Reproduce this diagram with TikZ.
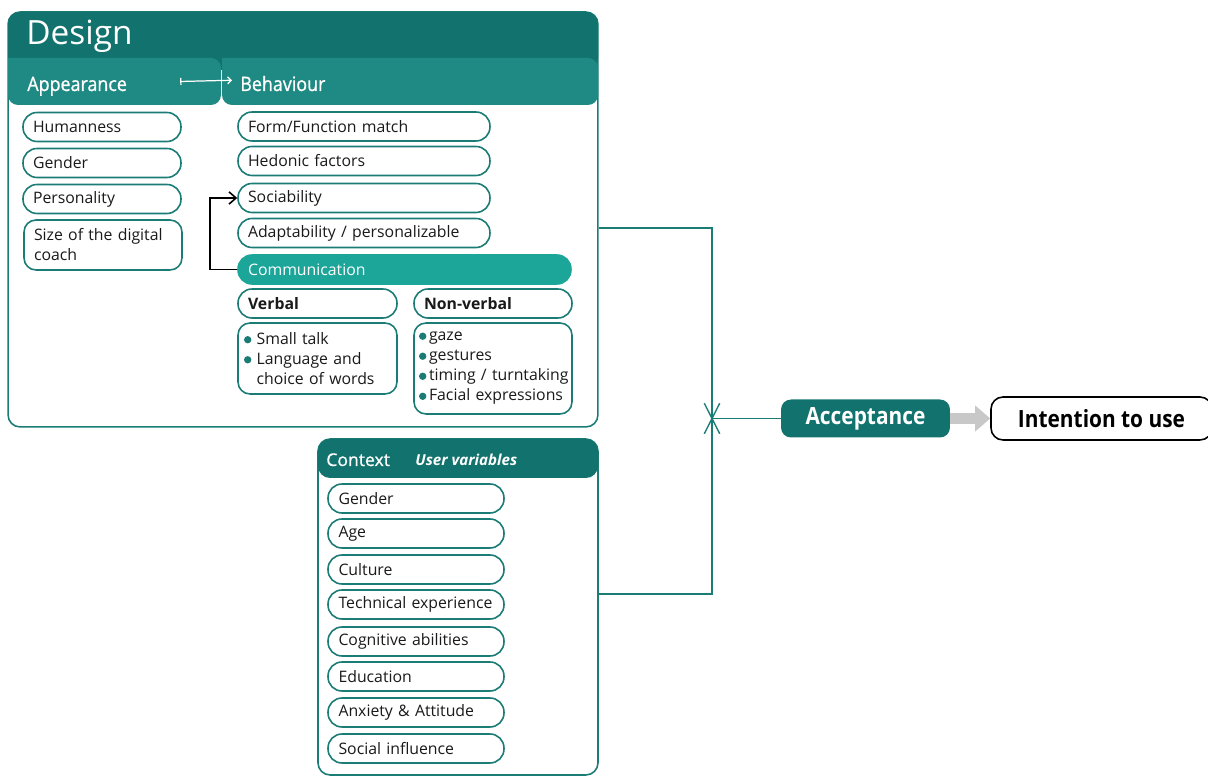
\documentclass[tikz,border=0pt]{standalone}
\usepackage{fontspec}
\setmainfont{Open Sans}
\newfontfamily\condfont[FakeStretch=0.88]{Open Sans}
\newfontfamily\tabfont[FakeStretch=0.9, FakeBold=0.9]{Open Sans}
\newfontfamily\semifont[FakeBold=0.9]{Open Sans}
\usepackage{xcolor}
\usetikzlibrary{arrows.meta,shapes.misc}

\definecolor{darkteal}{HTML}{12736E}
\definecolor{bandteal}{HTML}{1E8A83}
\definecolor{commteal}{HTML}{1BA699}
\definecolor{lineteal}{HTML}{1B7C76}
\definecolor{arrowgray}{HTML}{C8C8C8}
\definecolor{inktext}{HTML}{1A1A1A}
\newcommand{\dotitem}{\tikz[baseline=-0.55ex]\fill[lineteal] (0pt,0pt) circle (2.1pt);}
\newcommand{\nohyph}{\hyphenpenalty=10000\relax\exhyphenpenalty=10000\relax}

\begin{document}
\begin{tikzpicture}[x=0.02cm, y=-0.02cm]
            % Define styles
            \tikzstyle{panel} = [draw=lineteal, line width=0.9pt, fill=white, rounded corners=0.24cm, inner sep=0pt]
            \tikzstyle{itembox} = [draw=lineteal, line width=0.9pt, fill=white, rounded corners=0.28cm, minimum height=0.58cm, inner xsep=0.2cm, inner ysep=0pt, align=left, text=inktext, font=\fontsize{9}{11.4}\selectfont\nohyph]
            \tikzstyle{appitem} = [itembox, text width=2.76cm]
            \tikzstyle{behitem} = [itembox, text width=4.64cm]
            \tikzstyle{ctxitem} = [itembox, text width=3.1cm, inner xsep=0.21cm]
            \tikzstyle{listbox} = [itembox, rounded corners=0.24cm, inner xsep=0.12cm, text width=2.94cm]
            \tikzstyle{headtext} = [text=white, inner sep=0pt, anchor=base west]
            \tikzstyle{link} = [draw=lineteal, line width=0.8pt]
            \useasboundingbox (0,0) rectangle (1208,776);

            % Design panel
            \node (designbox) [panel, minimum width=11.8cm, minimum height=8.3cm] at (303,219.5) {};
            \fill[darkteal, rounded corners=0.24cm] (8,12) rectangle (598,70);
            \fill[bandteal] (8,58) [rounded corners=0.2cm] -- (8,105) -- (221,105) -- (221,58) [sharp corners] -- cycle;
            \fill[bandteal] (222,58) [rounded corners=0.2cm] -- (222,105) -- (598,105) -- (598,58) [sharp corners] -- cycle;
            \node (design) [headtext, font=\fontsize{19}{19}\selectfont] at (26,45) {Design};
            \node (appear) [headtext, font=\tabfont\fontsize{11.3}{11.3}\selectfont] at (27,91) {Appearance};
            \node (behav) [headtext, font=\tabfont\fontsize{11.3}{11.3}\selectfont] at (240,91) {Behaviour};
            \draw[white, line width=0.7pt, {Bar[width=4pt]}-{Straight Barb[length=2pt,width=4pt]}, shorten <=1.06cm, shorten >=0.16cm] ([yshift=0.07cm]appear.east) -- ([yshift=0.07cm]behav.west);

            % Appearance column
            \node (human) [appitem] at (102,127) {Humanness};
            \node (gender) [appitem] at (102,163) {Gender};
            \node (person) [appitem] at (102,199) {Personality};
            \node (size) [appitem, minimum height=1cm, rounded corners=0.24cm] at (103,245) {Size of the digital coach};

            % Behaviour column
            \node (form) [behitem] at (364,126.5) {Form/Function match};
            \node (hedonic) [behitem] at (364,161) {Hedonic factors};
            \node (social) [behitem] at (364,198) {Sociability};
            \node (adapt) [behitem] at (364,233) {Adaptability / personalizable};
            \node (comm) [itembox, text width=6.26cm, fill=commteal, draw=commteal, text=white] at (404.5,269.5) {Communication};
            \node (verbal) [itembox, text width=2.78cm, font=\fontsize{9}{11.4}\selectfont\bfseries] at (317.5,303.5) {Verbal};
            \node (nonverbal) [itembox, text width=2.76cm, font=\fontsize{9}{11.4}\selectfont\bfseries] at (493,303.5) {Non-verbal};
            \node (verblist) [listbox, minimum height=1.42cm] at (317.5,358.5) {\dotitem\ Small talk\\\dotitem\ Language and\\\hphantom{\dotitem\ }choice of words};
            \node (nvlist) [listbox, minimum height=1.82cm, inner xsep=0.1cm, text width=2.96cm] at (493,368.5) {\mbox{\dotitem\,gaze}\\\mbox{\dotitem\,gestures}\\\mbox{\dotitem\,timing / turntaking}\\\mbox{\dotitem\,Facial expressions}};
            \draw[black, line width=0.9pt, -{Straight Barb[length=4pt,width=7pt]}] (comm.west) -- ++(-27,0) |- (social.west);

            % Context panel
            \node (ctxbox) [panel, minimum width=5.6cm, minimum height=6.72cm] at (458,607) {};
            \fill[darkteal, rounded corners=0.24cm] (318,439) rectangle (598,478);
            \node (context) [headtext, font=\semifont\fontsize{10}{10}\selectfont] at (326,466) {Context};
            \node (uservar) [headtext, font=\fontsize{8.6}{8.6}\selectfont\bfseries\itshape] at (415,466) {User variables};
            \node (cgender) [ctxitem] at (416,498.5) {Gender};
            \node (age) [ctxitem] at (416,533.5) {Age};
            \node (culture) [ctxitem] at (416,569.5) {Culture};
            \node (tech) [ctxitem] at (416,604.5) {\mbox{Technical experience}};
            \node (cognit) [ctxitem] at (416,641.5) {Cognitive abilities};
            \node (educ) [ctxitem] at (416,676.5) {Education};
            \node (anxiety) [ctxitem] at (416,712.5) {Anxiety \& Attitude};
            \node (influence) [ctxitem] at (416,748.5) {Social influence};

            % Outcome
            \coordinate (junc) at (712,418.5);
            \node (accept) [fill=darkteal, rounded corners=0.2cm, minimum width=3.38cm, minimum height=0.76cm, text=white, font=\condfont\bfseries\fontsize{13.5}{13.5}\selectfont] at (865.5,418.5) {Acceptance};
            \node (intent) [draw=black, line width=0.9pt, fill=white, rounded corners=0.24cm, minimum width=4.42cm, minimum height=0.86cm, font=\condfont\bfseries\fontsize{13.5}{13.5}\selectfont] at (1101.5,418.5) {Intention to use};

            % Connectors
            \draw [link] ([yshift=-0.17cm]designbox.east) -| (junc) |- ([yshift=0.26cm]ctxbox.east);
            \draw [link] (accept.west) -- (junc);
            \node (jmark) [cross out, draw=lineteal, line width=0.8pt, minimum width=0.28cm, minimum height=0.58cm, inner sep=0pt] at (junc) {};
            \draw [arrowgray, line width=5.7pt, -{Triangle[length=0.3cm,width=0.5cm]}] (accept.east) -- (intent.west);
        \end{tikzpicture}
\end{document}
